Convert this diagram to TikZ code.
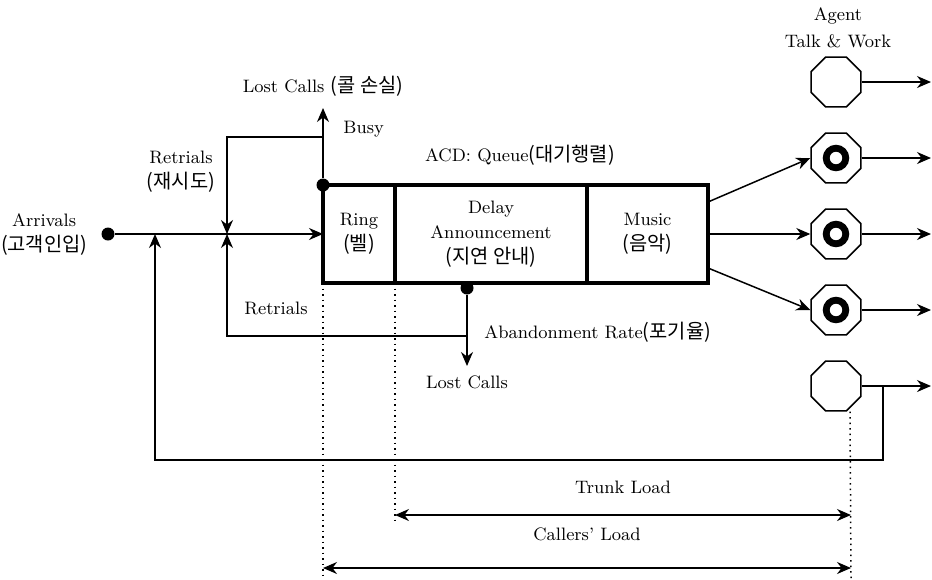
\documentclass[tikz,border=0pt]{standalone}
\usepackage{fontspec}
\newfontfamily\krfont[Scale=1.1]{Noto Sans CJK KR}
\usetikzlibrary{arrows.meta,positioning,shapes.geometric}
\tikzset{
  flow/.style={-{Stealth[length=7pt,width=6pt]}},
  span/.style={{Stealth[length=7pt,width=6pt]}-{Stealth[length=7pt,width=6pt]}},
  stage/.style={draw, line width=2pt, outer sep=0pt, minimum height=49pt, align=center},
  junc/.style={circle, fill, inner sep=0pt, minimum size=6.5pt},
  agent/.style={draw, regular polygon, regular polygon sides=8, minimum size=27pt, inner sep=0pt, fill=white},
}

\begin{document}
\begin{tikzpicture}[x=0.5pt, y=-0.5pt, line width=0.75pt, font=\fontsize{9}{12.5}\selectfont]
    \useasboundingbox (0,0) rectangle (932,579);

    % ACD queue
    \node[stage, minimum width=36pt] (ring) at (359,234) {Ring\\{\krfont(벨)}};
    \node[stage, minimum width=96pt, right=0pt of ring] (delay) {Delay\\Announcement\\{\krfont(지연 안내)}};
    \node[stage, minimum width=60.5pt, right=0pt of delay] (music) {Music\\{\krfont(음악)}};
    \node (acd) at (520,155) {ACD: Queue{\krfont(대기행렬)}};

    % Arrivals
    \node[junc] (arr) at (108,234) {};
    \node[left=3pt of arr, align=center] (arrlbl) {Arrivals\\{\krfont(고객인입)}};
    \coordinate (j1) at (155,234);
    \coordinate (j2) at (227,234);
    \draw[flow] (arr) -- (ring.west);

    % Busy -> lost calls, retrials
    \node[junc] (busy) at (ring.north west) {};
    \coordinate (lostup) at (323,108);
    \coordinate (rtop) at (323,137);
    \draw[flow] (busy) -- (lostup);
    \node[above=2pt of lostup] (lostlbl) {Lost Calls {\krfont(콜 손실)}};
    \node[anchor=west] (busylbl) at (336,129) {Busy};
    \draw[flow] (rtop) -| (j2);
    \node[align=center] (retlbl) at (181,172) {Retrials\\{\krfont(재시도)}};

    % Abandonment
    \node[junc] (aband) at ([shift={(-24,5)}]delay.south) {};
    \coordinate (lostdown) at (467,366);
    \coordinate (rbot) at (467,336);
    \draw[flow] (aband) -- (lostdown);
    \draw[flow] (rbot) -| (j2);
    \node[below=1pt of lostdown] (lostdlbl) {Lost Calls};
    \node[anchor=west] (abandlbl) at (477,332) {Abandonment Rate{\krfont(포기율)}};
    \node (ret2lbl) at (276,308) {Retrials};

    % Agents
    \node[align=center, font=\fontsize{9}{13.5}\selectfont] (agentlbl) at (838,28) {Agent\\Talk \& Work};
    \foreach \i/\y in {1/82, 2/158, 3/234, 4/310, 5/386} {
        \node[agent] (ag\i) at (836,\y) {};
        \coordinate (out\i) at (931,\y);
        \draw[flow] (ag\i.east) -- (out\i);
    }
    \foreach \i in {2,3,4} {
        \draw[line width=3.4pt] (ag\i.center) circle[radius=4.9pt];
    }
    \draw[flow] ([yshift=16pt]music.east) -- (ag2.west);
    \draw[flow] (music.east) -- (ag3.west);
    \draw[flow] ([yshift=-17pt]music.east) -- (ag4.west);

    % Feedback of agent calls
    \coordinate (fb) at (883,386);
    \coordinate (fbdown) at (883,460);
    \draw[flow] (fb) -- (fbdown) -| (j1);

    % Loads
    \coordinate (trunkL) at (395,515);
    \coordinate (trunkR) at (851,515);
    \coordinate (callL) at (323,568);
    \coordinate (callR) at (851,568);
    \draw[dotted] (ring.south west) -- (323,578);
    \draw[dotted] (delay.south west) -- (395,524);
    \draw[dotted] ([xshift=7pt]ag5.south) -- (851,578);
    \draw[span] (trunkL) -- node[above=7pt] (trunklbl) {Trunk Load} (trunkR);
    \draw[span] (callL) -- node[above=10pt] (calllbl) {Callers' Load} (callR);
\end{tikzpicture}
\end{document}
